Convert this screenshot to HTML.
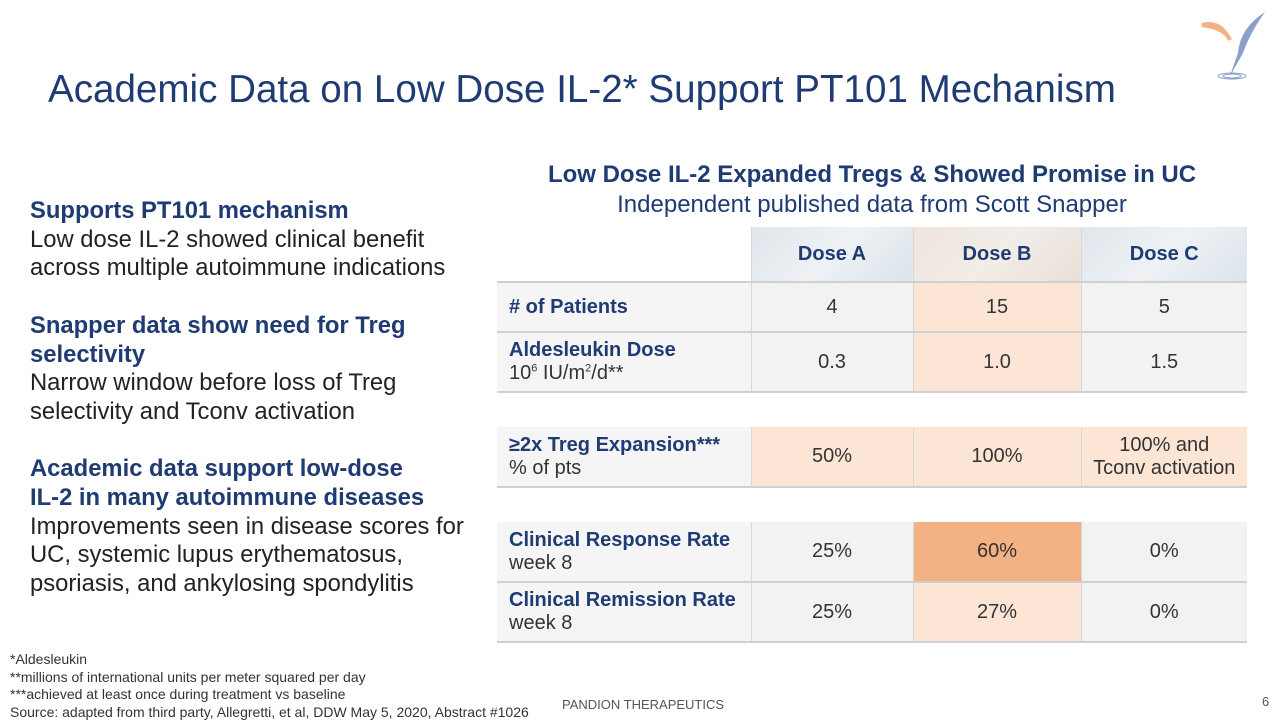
<!DOCTYPE html>
<html><head><meta charset="utf-8">
<style>
body{margin:0;width:1280px;height:720px;background:#fff;font-family:"Liberation Sans",Arial,sans-serif;position:relative;overflow:hidden}
.a{position:absolute}
.title{left:48px;top:68px;font-size:38.6px;color:#1f3b73}
.left{left:30px;top:197px;font-size:23.8px;line-height:28.7px;color:#222;width:450px}
.left b{color:#1f3b73}
.sub{left:497px;width:750px;text-align:center;color:#1f3b73;font-size:24px}
table{position:absolute;left:497px;top:227px;border-collapse:collapse;width:750px;font-size:20px;color:#333}
td{border-bottom:2px solid #d0d0d0;border-left:1px solid #d8d8d8;text-align:center;padding:0}
td.l{text-align:left;padding-left:12px;border-left:none;color:#1f3b73;background:#f5f5f5}
td.l span{color:#333;font-weight:normal}
.g{background:#f2f2f2}.p{background:#fde5d6}.o{background:#f4b183}
.gap td{border:none;background:#fff;height:34px}
.hd td{height:54px;font-weight:bold;color:#1f3b73;background:linear-gradient(135deg,#dfe6ec,#eef2f5 50%,#dce4ea)}
.hd td.b{background:linear-gradient(135deg,#eee4dc,#f3ede8 50%,#e8e0d8)}
.hd td.e{background:#fff;border-left:none}
.foot{left:10px;top:651px;font-size:14px;line-height:17.5px;color:#333}
</style></head><body>
<svg class="a" style="left:1195px;top:8px" width="75" height="75" viewBox="0 0 75 75">
<path d="M7 17 Q25 12 35 32 Q30 20 7 17Z" fill="#f4b183" stroke="#f4b183" stroke-width="4"/>
<path d="M70 4 Q45 20 43 45 L35 68 L48 45 Q55 25 70 4Z" fill="#8aa0c8"/>
<ellipse cx="37" cy="68" rx="14" ry="3" fill="none" stroke="#8aa0c8"/>
<ellipse cx="37" cy="68" rx="9" ry="2" fill="none" stroke="#8aa0c8"/>
</svg>
<div class="a title">Academic Data on Low Dose IL-2* Support PT101 Mechanism</div>
<div class="a left">
<b>Supports PT101 mechanism</b><br>Low dose IL-2 showed clinical benefit<br>across multiple autoimmune indications<br><br>
<b>Snapper data show need for Treg<br>selectivity</b><br>Narrow window before loss of Treg<br>selectivity and Tconv activation<br><br>
<b>Academic data support low-dose<br>IL-2 in many autoimmune diseases</b><br>Improvements seen in disease scores for<br>UC, systemic lupus erythematosus,<br>psoriasis, and ankylosing spondylitis</div>
<div class="a sub" style="top:161px;font-weight:bold">Low Dose IL-2 Expanded Tregs &amp; Showed Promise in UC</div>
<div class="a sub" style="top:191px">Independent published data from Scott Snapper</div>
<table>
<colgroup><col style="width:254px"><col style="width:162px"><col style="width:168px"><col style="width:166px"></colgroup>
<tr class="hd"><td class="e"></td><td>Dose A</td><td class="b">Dose B</td><td>Dose C</td></tr>
<tr style="height:50px"><td class="l"><b># of Patients</b></td><td class="g">4</td><td class="p">15</td><td class="g">5</td></tr>
<tr style="height:60px"><td class="l"><b>Aldesleukin Dose</b><br><span>10<sup style="font-size:11px">6</sup> IU/m<sup style="font-size:11px">2</sup>/d**</span></td><td class="g">0.3</td><td class="p">1.0</td><td class="g">1.5</td></tr>
<tr class="gap"><td colspan="4"></td></tr>
<tr style="height:60px"><td class="l p"><b>≥2x Treg Expansion***</b><br><span>% of pts</span></td><td class="p">50%</td><td class="p">100%</td><td class="p">100% and<br>Tconv activation</td></tr>
<tr class="gap"><td colspan="4"></td></tr>
<tr style="height:60px"><td class="l"><b>Clinical Response Rate</b><br><span>week 8</span></td><td class="g">25%</td><td class="o">60%</td><td class="g">0%</td></tr>
<tr style="height:60px"><td class="l"><b>Clinical Remission Rate</b><br><span>week 8</span></td><td class="g">25%</td><td class="p">27%</td><td class="g">0%</td></tr>
</table>
<div class="a foot">*Aldesleukin<br>**millions of international units per meter squared per day<br>***achieved at least once during treatment vs baseline<br>Source: adapted from third party, Allegretti, et al, DDW May 5, 2020, Abstract #1026</div>
<div class="a" style="left:562px;top:697px;font-size:13px;color:#555">PANDION THERAPEUTICS</div>
<div class="a" style="left:1262px;top:694px;font-size:13px;color:#555">6</div>
</body></html>
